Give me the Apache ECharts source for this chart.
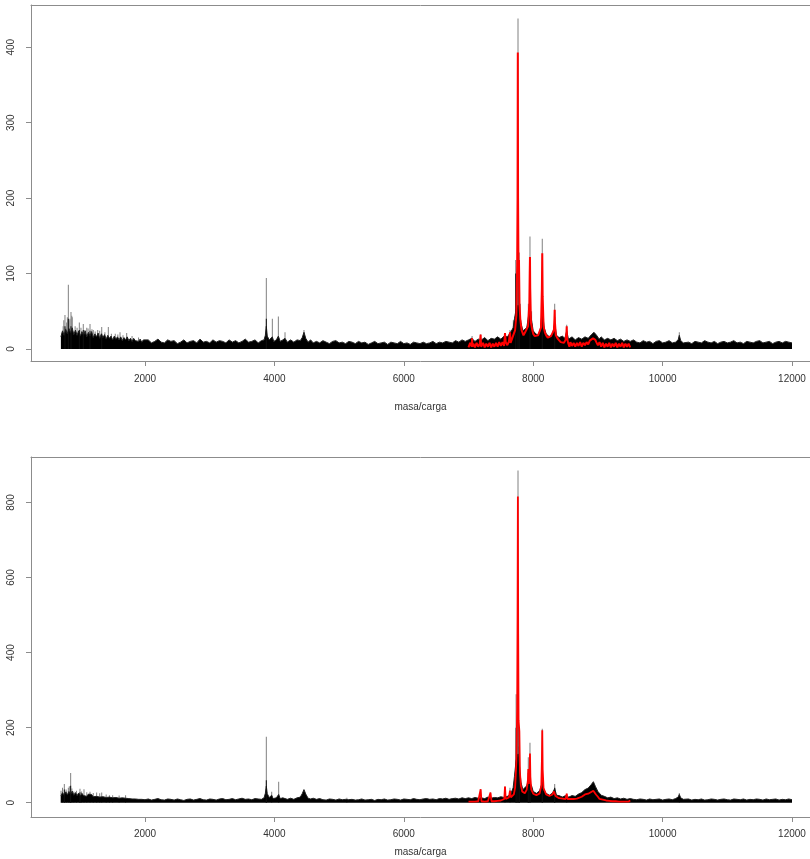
<!DOCTYPE html>
<html>
<head>
<meta charset="utf-8">
<script src="https://cdn.jsdelivr.net/npm/echarts@6/dist/echarts.min.js"></script>
<style>html,body{margin:0;padding:0;background:#fff}#c{width:810px;height:859px}</style>
</head>
<body>
<div id="c"></div>
<script>
// ---- data (m/z, intensity) ----
const xTicks = [2000, 4000, 6000, 8000, 10000, 12000];
const yTicksTop = [0, 100, 200, 300, 400];
const yTicksBottom = [0, 200, 400, 600, 800];

const bandTop = [[700,16],[725,24],[750,18],[775,26],[800,20],[825,27],[850,21],[875,28],[900,19],[925,25],[950,18],[975,24],[1000,17],[1025,23],[1050,18],[1075,24],[1100,16],[1125,22],[1150,17],[1175,23],[1200,15],[1225,20],[1250,16],[1275,21],[1300,14],[1325,20],[1350,15],[1375,19],[1400,13],[1425,18],[1450,14],[1475,17],[1500,12],[1525,17],[1550,13],[1575,16],[1600,12],[1625,16],[1650,11],[1675,15],[1700,12],[1725,16],[1750,11],[1775,14],[1800,10],[1825,14],[1850,11],[1875,13],[1900,10],[1925,13],[1950,9],[1975,12],[2000,10],
[2050,12],[2100,8],[2150,10],[2200,13],[2250,9],[2300,8],[2350,12],[2400,10],[2450,11],[2500,7],[2550,9],[2600,12],[2650,8],[2700,10],[2750,11],[2800,8],[2850,13],[2900,9],[2950,10],[3000,8],[3050,12],[3100,9],[3150,11],[3200,10],[3250,8],[3300,12],[3350,9],[3400,11],[3450,8],[3500,10],[3550,13],[3600,9],[3650,10],[3700,12],[3750,8],[3800,11],
[3840,12],[3860,18],[3875,30],[3890,17],[3920,12],[3950,10],[3968,16],[3990,10],[4030,12],[4061,17],[4090,10],[4130,12],[4164,14],[4200,9],[4250,12],[4300,9],[4350,12],[4400,11],[4430,15],[4457,22],[4485,14],[4520,9],[4560,12],[4600,8],
[4650,10],[4700,8],[4750,11],[4800,9],[4850,7],[4900,10],[4950,11],[5000,8],[5050,9],[5100,7],[5150,10],[5200,9],[5250,7],[5300,10],[5350,8],[5400,9],[5450,6],[5500,8],[5550,10],[5600,7],[5650,8],[5700,9],[5750,6],[5800,9],[5850,8],[5900,7],[5950,10],[6000,7],[6050,8],[6100,6],[6150,9],[6200,8],[6250,7],[6300,9],[6350,7],[6400,8],[6450,10],[6500,7],[6550,9],[6600,8],[6650,10],[6700,9],[6750,8],[6800,11],[6850,9],[6900,12],[6950,10],
[7000,12],[7050,14],[7100,10],[7150,13],[7200,12],[7250,15],[7300,11],[7350,14],[7400,13],[7450,16],[7500,13],[7550,17],[7600,16],[7650,22],
[7690,28],[7710,40],[7735,52],[7765,58],[7790,48],[7810,35],[7840,24],[7870,22],[7900,28],[7925,42],[7950,56],[7975,38],[8000,24],[8040,20],[8080,18],[8110,26],[8140,52],[8170,28],[8200,20],[8250,16],[8300,20],[8332,34],[8360,18],[8400,15],[8450,17],[8490,14],[8518,24],[8545,13],[8600,16],[8650,12],[8700,15],[8750,13],[8800,16],[8850,14],[8900,19],[8940,22],[8980,18],[9020,13],[9050,16],[9100,12],[9150,14],[9200,12],[9250,14],[9300,11],[9350,13],[9400,10],[9450,12],
[9500,10],[9550,12],[9600,9],[9650,8],[9700,11],[9750,9],[9800,10],[9850,7],[9900,10],[9950,11],[10000,8],[10050,9],[10100,11],[10150,8],[10200,9],[10240,12],[10258,18],[10280,11],[10320,8],[10350,10],[10400,9],[10450,7],[10500,10],[10550,9],[10600,8],[10650,11],[10700,9],[10750,8],[10800,10],[10850,7],[10900,9],[10950,10],[11000,8],[11050,9],[11100,11],[11150,8],[11200,9],[11250,7],[11300,10],[11350,9],[11400,8],[11450,10],[11500,11],[11550,8],[11600,9],[11650,10],[11700,7],[11750,9],[11800,10],[11850,8],[11900,10],[11950,9],[12000,8]];

const spikesGrayTop = [[720,22],[735,30],[745,38],[763,45],[780,28],[790,35],[800,42],[815,85],[825,38],[840,40],[856,49],[868,44],[875,42],[920,30],[950,28],[985,35],[1010,28],[1046,33],[1070,25],[1100,28],[1120,27],[1150,33],[1180,26],[1200,25],[1230,23],[1269,25],[1300,24],[1331,29],[1380,22],[1433,29],[1480,20],[1540,20],[1580,19],[1614,22],[1660,18],[1717,21],[1800,17],[1900,15],[3875,94],[3968,40],[4061,43],[4164,22],[4457,25],[7055,17],[7187,19],[7564,21],[7641,25],[7693,38],[7730,118],[7765,438],[7784,128],[7800,60],[7925,60],[7950,149],[7975,50],[8140,146],[8160,40],[8332,60],[8518,32],[10258,22]];
const spikesBlackTop = [[763,30],[815,40],[856,30],[985,25],[1046,25],[1150,24],[1331,20],[3875,40],[7730,100],[7765,120],[7784,110],[7950,75],[8140,70],[8332,42]];

const redTop = [[7000,2],[7025,8],[7050,3],[7055,14],[7060,3],[7075,7],[7100,2],[7125,8],[7150,3],[7175,7],[7187,19],[7195,3],[7225,8],[7250,2],[7275,7],[7300,3],[7325,8],[7350,2],[7375,7],[7400,3],[7425,8],[7450,3],[7475,9],[7500,4],[7525,9],[7550,4],[7564,21],[7575,9],[7600,5],[7625,10],[7641,22],[7650,8],[7675,14],[7700,12],[7720,25],[7740,45],[7752,110],[7758,200],[7762,393],[7766,200],[7772,110],[7780,118],[7788,60],[7800,40],[7820,25],[7850,18],[7875,22],[7900,20],[7920,30],[7940,60],[7946,100],[7950,122],[7954,80],[7965,35],[7985,25],[8000,20],[8025,17],[8050,15],[8075,18],[8100,18],[8120,28],[8134,80],[8140,127],[8146,70],[8160,30],[8180,22],[8200,18],[8225,15],[8250,14],[8275,17],[8300,16],[8320,25],[8328,40],[8332,52],[8336,35],[8350,18],[8375,14],[8400,12],[8425,9],[8450,10],[8475,8],[8500,12],[8514,22],[8518,30],[8522,15],[8540,8],[8560,3],[8575,9],[8600,4],[8625,8],[8650,3],[8675,8],[8700,4],[8725,9],[8750,3],[8775,8],[8800,5],[8825,9],[8850,6],[8875,11],[8900,10],[8925,14],[8940,15],[8960,12],[8975,9],[9000,5],[9025,9],[9050,3],[9075,8],[9100,2],[9125,7],[9150,3],[9175,8],[9200,2],[9225,7],[9250,3],[9275,8],[9300,2],[9325,7],[9350,3],[9375,8],[9400,2],[9425,7],[9450,3],[9475,7],[9500,2]];

const bandBottom = [[700,18],[725,27],[750,20],[775,29],[800,21],[825,30],[850,22],[875,31],[900,20],[925,27],[950,19],[975,26],[1000,18],[1025,25],[1050,19],[1075,24],[1100,17],[1125,23],[1150,18],[1175,22],[1200,16],[1225,21],[1250,17],[1275,21],[1300,15],[1325,20],[1350,16],[1375,19],[1400,14],[1425,18],[1450,15],[1475,18],[1500,13],[1525,17],[1550,14],[1575,16],[1600,12],[1625,16],[1650,13],[1675,15],[1700,12],[1725,16],[1750,11],[1775,14],[1800,10],[1825,13],[1850,10],[1875,12],[1900,9],[1925,12],[1950,9],[1975,12],[2000,8],
[2050,10],[2100,7],[2150,9],[2200,11],[2250,8],[2300,7],[2350,10],[2400,9],[2450,7],[2500,10],[2550,8],[2600,6],[2650,9],[2700,10],[2750,7],[2800,9],[2850,11],[2900,8],[2950,7],[3000,10],[3050,9],[3100,7],[3150,10],[3200,11],[3250,8],[3300,9],[3350,11],[3400,8],[3450,10],[3500,12],[3550,9],[3600,10],[3650,8],[3700,11],[3750,10],[3800,9],
[3840,13],[3860,25],[3875,44],[3890,24],[3920,14],[3950,11],[3958,20],[3980,11],[4030,13],[4066,22],[4090,11],[4130,13],[4200,9],[4250,12],[4300,9],[4350,13],[4400,15],[4430,24],[4457,35],[4485,23],[4520,12],[4560,10],[4600,12],
[4650,9],[4700,11],[4750,8],[4800,7],[4850,10],[4900,9],[4950,7],[5000,10],[5050,8],[5100,9],[5120,14],[5140,8],[5200,9],[5250,7],[5300,8],[5350,10],[5400,7],[5450,8],[5500,9],[5550,6],[5600,9],[5650,8],[5700,10],[5750,7],[5800,8],[5850,10],[5900,9],[5950,7],[6000,10],[6050,9],[6100,8],[6150,11],[6200,9],[6250,8],[6300,10],[6350,11],[6400,9],[6450,10],[6500,8],[6550,11],[6600,10],[6650,12],[6700,9],[6750,11],[6800,12],[6850,10],[6900,13],[6950,11],
[7000,13],[7050,11],[7100,14],[7150,12],[7200,13],[7250,11],[7300,15],[7350,12],[7400,14],[7450,13],[7500,16],[7550,14],[7600,17],[7650,22],
[7690,40],[7710,70],[7735,112],[7765,130],[7790,95],[7810,55],[7840,35],[7870,30],[7900,45],[7924,60],[7950,62],[7975,45],[8000,30],[8050,25],[8100,32],[8140,55],[8170,32],[8200,25],[8250,20],[8300,26],[8332,38],[8360,20],[8400,19],[8450,15],[8500,19],[8518,22],[8550,15],[8600,19],[8650,17],[8700,23],[8750,27],[8800,35],[8850,39],[8900,49],[8930,56],[8960,44],[9000,30],[9050,20],[9100,17],[9150,13],[9200,15],[9250,11],[9300,13],[9350,10],[9400,12],[9450,9],
[9500,11],[9550,9],[9600,8],[9650,10],[9700,9],[9750,7],[9800,10],[9850,8],[9900,9],[9950,10],[10000,7],[10050,9],[10100,10],[10150,8],[10200,11],[10240,15],[10258,22],[10280,13],[10320,9],[10350,8],[10400,10],[10450,7],[10500,9],[10550,8],[10600,10],[10650,7],[10700,8],[10750,10],[10800,9],[10850,7],[10900,9],[10950,10],[11000,8],[11050,7],[11100,10],[11150,9],[11200,8],[11250,10],[11300,7],[11350,9],[11400,8],[11450,10],[11500,9],[11550,7],[11600,10],[11650,8],[11700,9],[11750,10],[11800,7],[11850,9],[11900,8],[11950,10],[12000,8]];

const spikesGrayBottom = [[702,32],[725,40],[753,50],[780,35],[790,30],[815,40],[830,44],[851,79],[870,38],[900,30],[940,32],[995,37],[1020,30],[1057,36],[1100,28],[1150,29],[1200,26],[1253,27],[1300,25],[1331,27],[1400,22],[1450,20],[1500,20],[1600,19],[1700,20],[3875,176],[3958,29],[4066,56],[5120,13],[7188,36],[7340,27],[7564,43],[7641,40],[7736,289],[7765,885],[7786,201],[7924,121],[7950,160],[8140,197],[8332,50],[8518,24],[10258,26]];
const spikesBlackBottom = [[753,35],[851,45],[995,28],[3875,60],[7736,200],[7765,260],[7786,150],[7924,80],[7950,90],[8140,80],[8332,40]];

const redBottom = [[7000,3],[7025,8],[7050,3],[7075,7],[7100,3],[7125,8],[7150,4],[7175,7],[7188,36],[7200,4],[7225,8],[7250,3],[7275,7],[7300,4],[7325,8],[7340,27],[7355,4],[7375,8],[7400,4],[7425,9],[7450,5],[7475,10],[7500,6],[7525,11],[7553,10],[7564,43],[7575,10],[7600,12],[7625,14],[7641,32],[7655,14],[7680,18],[7700,22],[7720,40],[7740,110],[7752,250],[7758,500],[7763,816],[7768,450],[7774,220],[7786,190],[7795,80],[7810,45],[7830,30],[7870,25],[7900,35],[7918,60],[7924,90],[7932,50],[7944,90],[7950,131],[7956,70],[7970,35],[8000,24],[8050,20],[8100,25],[8125,45],[8134,110],[8140,193],[8146,90],[8160,38],[8200,22],[8250,18],[8300,22],[8320,30],[8332,32],[8345,18],[8375,14],[8400,12],[8425,16],[8450,11],[8475,15],[8500,10],[8518,24],[8530,10],[8550,15],[8575,10],[8600,14],[8625,10],[8650,15],[8675,11],[8700,16],[8750,16],[8800,22],[8850,24],[8880,28],[8929,32],[8970,22],[9000,16],[9025,10],[9050,14],[9075,8],[9100,12],[9125,6],[9150,11],[9175,5],[9200,10],[9225,4],[9250,9],[9275,4],[9300,8],[9325,3],[9350,8],[9375,3],[9400,8],[9425,3],[9450,7],[9475,3],[9500,6]];

// ---- chart ----
const FONT = "'Liberation Sans', Arial, sans-serif";
const LINE = '#8c8c8c';
const TXT = '#333';
const plain = function (v) { return String(v); };

function xAx(gi, labelMargin, nameGap) {
  return [{
    gridIndex: gi, type: 'value', min: 238, max: 12278, position: 'bottom',
    axisLine: { show: true, onZero: false, lineStyle: { color: LINE, width: 1 } },
    axisTick: { show: true, inside: false, length: 5, customValues: xTicks, lineStyle: { color: LINE } },
    axisLabel: { show: true, customValues: xTicks, formatter: plain, margin: labelMargin, color: TXT, fontSize: 10, fontFamily: FONT },
    splitLine: { show: false },
    name: 'masa/carga', nameLocation: 'middle', nameGap: nameGap,
    nameTextStyle: { color: TXT, fontSize: 10, fontFamily: FONT }
  }, {
    gridIndex: gi, type: 'value', min: 238, max: 12278, position: 'top',
    axisLine: { show: true, onZero: false, lineStyle: { color: LINE, width: 1 } },
    axisTick: { show: false }, axisLabel: { show: false }, splitLine: { show: false }
  }];
}
function yAx(gi, min, max, ticks) {
  return {
    gridIndex: gi, type: 'value', min: min, max: max,
    axisLine: { show: true, onZero: false, lineStyle: { color: LINE, width: 1 } },
    axisTick: { show: true, inside: false, length: 5, customValues: ticks, lineStyle: { color: LINE } },
    axisLabel: { show: true, customValues: ticks, formatter: plain, rotate: 90, margin: 15, color: TXT, fontSize: 10, fontFamily: FONT },
    splitLine: { show: false }
  };
}
function panel(gi, band, gray, black, red, redWidth) {
  const xi = gi * 2;
  return [
    { type: 'bar', xAxisIndex: xi, yAxisIndex: gi, data: gray, barWidth: 1, barGap: '-100%',
      itemStyle: { color: '#808080' }, z: 1, silent: true },
    { type: 'line', xAxisIndex: xi, yAxisIndex: gi, data: band, showSymbol: false, symbol: 'none',
      lineStyle: { color: '#222', width: 1 }, areaStyle: { color: '#000', opacity: 1 }, z: 2, silent: true },
    { type: 'bar', xAxisIndex: xi, yAxisIndex: gi, data: black, barWidth: 1, barGap: '-100%',
      itemStyle: { color: '#111' }, z: 3, silent: true },
    { type: 'line', xAxisIndex: xi, yAxisIndex: gi, data: red, showSymbol: false, symbol: 'none',
      lineStyle: { color: '#ff0000', width: redWidth }, z: 4, silent: true }
  ];
}

const chart = echarts.init(document.getElementById('c'), null, { renderer: 'canvas' });
chart.setOption({
  animation: false,
  backgroundColor: '#fff',
  grid: [
    { left: 31, right: 0, top: 5, height: 356 },
    { left: 31, right: 0, top: 457, height: 360 }
  ],
  xAxis: [].concat(xAx(0, 13, 41), xAx(1, 12, 30)),
  yAxis: [yAx(0, -16, 456, yTicksTop), yAx(1, -38, 921, yTicksBottom)],
  series: [].concat(
    panel(0, bandTop, spikesGrayTop, spikesBlackTop, redTop, 2),
    panel(1, bandBottom, spikesGrayBottom, spikesBlackBottom, redBottom, 1.8)
  )
});
</script>
</body>
</html>
